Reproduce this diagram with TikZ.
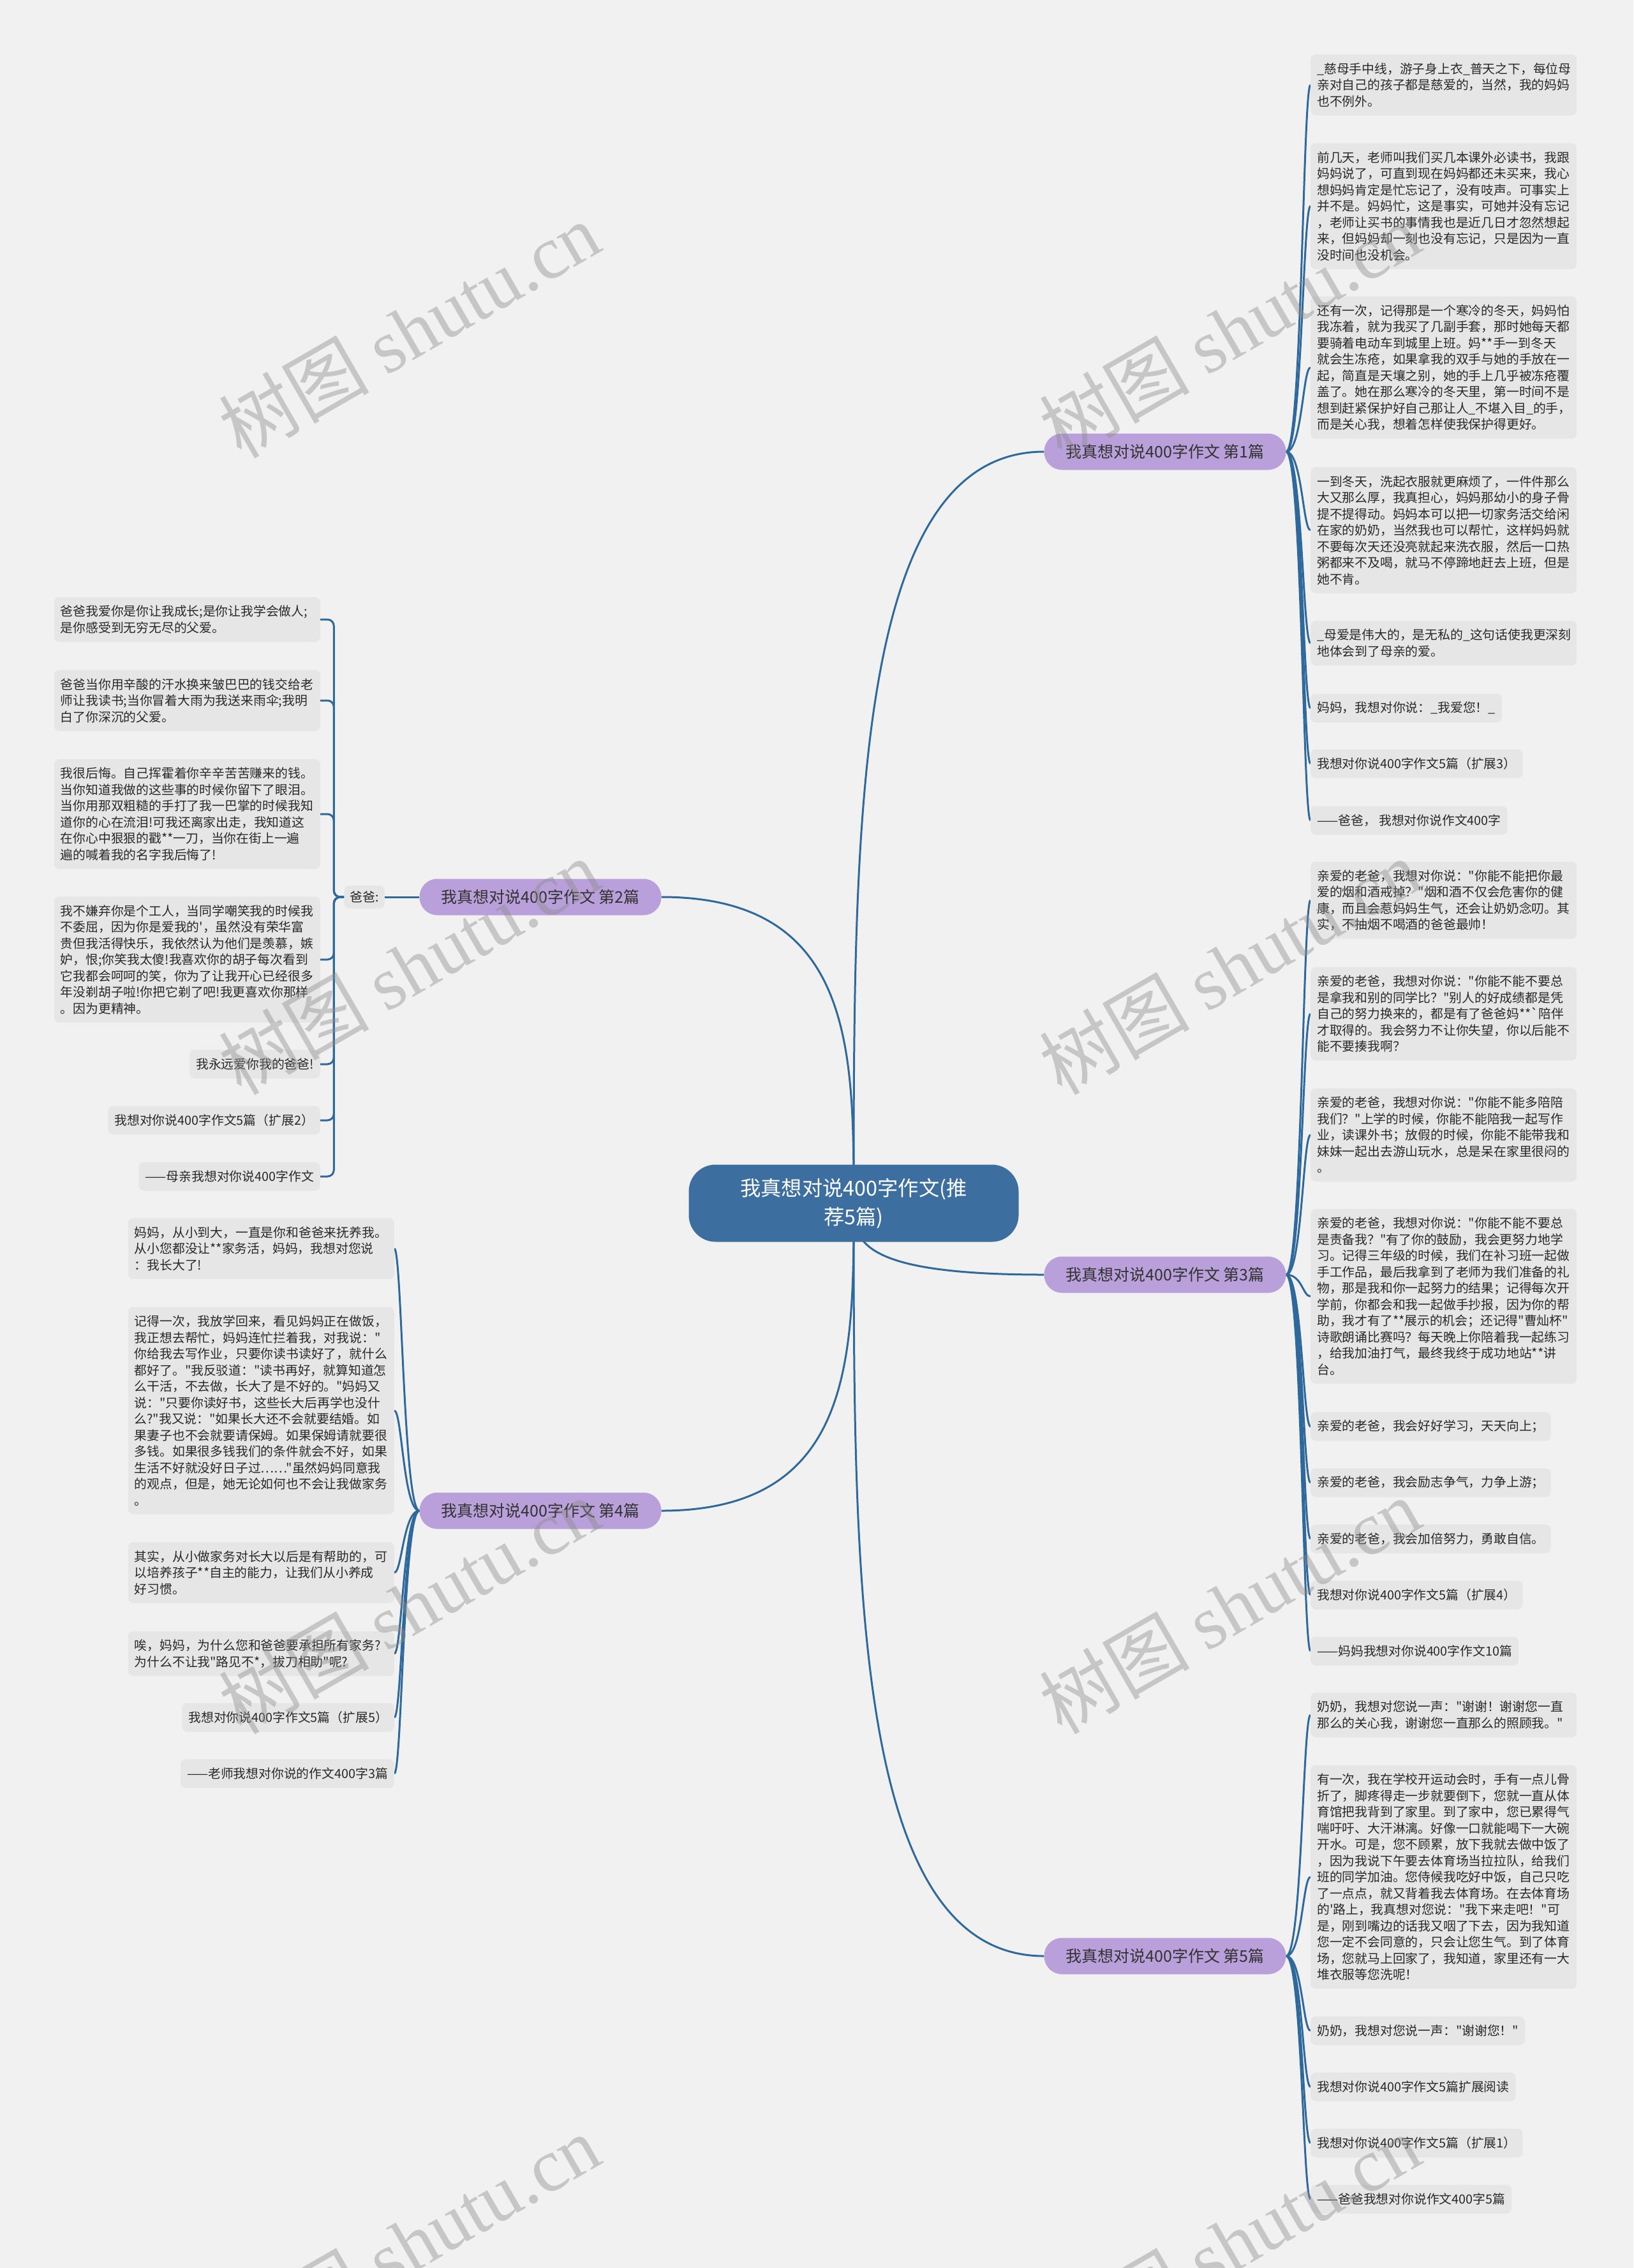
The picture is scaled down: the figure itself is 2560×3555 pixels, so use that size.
\documentclass[tikz,border=0pt]{standalone}
\usepackage{fontspec}
\newfontfamily\cjk{Noto Sans CJK SC}
\newfontfamily\wmserif{Liberation Serif}
\usetikzlibrary{calc}
\definecolor{bgc}{RGB}{241,241,241}
\definecolor{leaffill}{RGB}{230,230,230}
\definecolor{leaftext}{RGB}{40,40,40}
\definecolor{linkc}{RGB}{47,104,155}
\definecolor{rootfill}{RGB}{60,110,160}
\definecolor{branchfill}{RGB}{185,160,218}
\definecolor{branchtext}{RGB}{50,50,50}
\definecolor{wmc}{RGB}{140,140,140}
\pgfdeclarelayer{back}
\pgfsetlayers{back,main}
\tikzset{
  leafbox/.style={fill=leaffill, rounded corners=8pt, font=\cjk\fontsize{19.8}{25.5}\selectfont, text=leaftext, inner xsep=10pt, inner ysep=2pt, align=left},
  lb/.style={leafbox, minimum height={#1*25.5pt+19pt}, text width=397pt},
  ls/.style={leafbox, minimum height=45pt},
  branchbox/.style={fill=branchfill, rounded corners=28pt, minimum width=379pt, minimum height=57pt, font=\cjk\fontsize{25}{30}\selectfont, text=branchtext},
  rootbox/.style={fill=rootfill, rounded corners=42pt, minimum width=517pt, minimum height=121pt, font=\cjk\fontsize{32.3}{45}\selectfont, text=white, align=center},
  link/.style={draw=linkc, line width=3pt},
  wm/.style={text=wmc, text opacity=0.42, rotate=30, font=\cjk\fontsize{118}{130}\selectfont},
}
\begin{document}
\begin{tikzpicture}[x=1pt,y=-1pt]
\useasboundingbox (0,0) rectangle (2560,3555);
\begin{pgfonlayer}{back}
\fill[bgc] (0,0) rectangle (2560,3555);
\end{pgfonlayer}

% root and branches
\node[rootbox] (root) at (1338,1886) {我真想对说400字作文(推\\荐5篇)};
\node[branchbox] (b1) at (1826,708) {我真想对说400字作文 第1篇};
\node[branchbox] (b2) at (847,1406) {我真想对说400字作文 第2篇};
\node[branchbox] (b3) at (1826,1998) {我真想对说400字作文 第3篇};
\node[branchbox] (b4) at (847,2368) {我真想对说400字作文 第4篇};
\node[branchbox] (b5) at (1826,3066) {我真想对说400字作文 第5篇};

% branch 1 leaves
\node[lb=3, anchor=west] (r1a) at (2054,133) {\_慈母手中线，游子身上衣\_普天之下，每位母\\亲对自己的孩子都是慈爱的，当然，我的妈妈\\也不例外。};
\node[lb=7, anchor=west] (r1b) at (2054,323) {前几天，老师叫我们买几本课外必读书，我跟\\妈妈说了，可直到现在妈妈都还未买来，我心\\想妈妈肯定是忙忘记了，没有吱声。可事实上\\并不是。妈妈忙，这是事实，可她并没有忘记\\，老师让买书的事情我也是近几日才忽然想起\\来，但妈妈却一刻也没有忘记，只是因为一直\\没时间也没机会。};
\node[lb=8, anchor=west] (r1c) at (2054,576) {还有一次，记得那是一个寒冷的冬天，妈妈怕\\我冻着，就为我买了几副手套，那时她每天都\\要骑着电动车到城里上班。妈**手一到冬天\\就会生冻疮，如果拿我的双手与她的手放在一\\起，简直是天壤之别，她的手上几乎被冻疮覆\\盖了。她在那么寒冷的冬天里，第一时间不是\\想到赶紧保护好自己那让人\_不堪入目\_的手，\\而是关心我，想着怎样使我保护得更好。};
\node[lb=7, anchor=west] (r1d) at (2054,831) {一到冬天，洗起衣服就更麻烦了，一件件那么\\大又那么厚，我真担心，妈妈那幼小的身子骨\\提不提得动。妈妈本可以把一切家务活交给闲\\在家的奶奶，当然我也可以帮忙，这样妈妈就\\不要每次天还没亮就起来洗衣服，然后一口热\\粥都来不及喝，就马不停蹄地赶去上班，但是\\她不肯。};
\node[lb=2, anchor=west] (r1e) at (2054,1008) {\_母爱是伟大的，是无私的\_这句话使我更深刻\\地体会到了母亲的爱。};
\node[ls, anchor=west] (r1f) at (2054,1110) {妈妈，我想对你说：\_我爱您！\_};
\node[ls, anchor=west] (r1g) at (2054,1197) {我想对你说400字作文5篇（扩展3）};
\node[ls, anchor=west] (r1h) at (2054,1286) {——爸爸， 我想对你说作文400字};

% branch 2
\node[leafbox, minimum height=36pt, inner xsep=9pt] (baba) at (571,1406) {爸爸:};
\node[lb=2, anchor=east] (l2a) at (502,971) {爸爸我爱你是你让我成长;是你让我学会做人;\\是你感受到无穷无尽的父爱。};
\node[lb=3, anchor=east] (l2b) at (502,1098) {爸爸当你用辛酸的汗水换来皱巴巴的钱交给老\\师让我读书;当你冒着大雨为我送来雨伞;我明\\白了你深沉的父爱。};
\node[lb=6, anchor=east] (l2c) at (502,1276) {我很后悔。自己挥霍着你辛辛苦苦赚来的钱。\\当你知道我做的这些事的时候你留下了眼泪。\\当你用那双粗糙的手打了我一巴掌的时候我知\\道你的心在流泪!可我还离家出走，我知道这\\在你心中狠狠的戳**一刀，当你在街上一遍\\遍的喊着我的名字我后悔了!};
\node[lb=7, anchor=east] (l2d) at (502,1504) {我不嫌弃你是个工人，当同学嘲笑我的时候我\\不委屈，因为你是爱我的'，虽然没有荣华富\\贵但我活得快乐，我依然认为他们是羡慕，嫉\\妒，恨;你笑我太傻!我喜欢你的胡子每次看到\\它我都会呵呵的笑，你为了让我开心已经很多\\年没剃胡子啦!你把它剃了吧!我更喜欢你那样\\。因为更精神。};
\node[ls, anchor=east] (l2e) at (502,1668) {我永远爱你我的爸爸!};
\node[ls, anchor=east] (l2f) at (502,1756) {我想对你说400字作文5篇（扩展2）};
\node[ls, anchor=east] (l2g) at (502,1844) {——母亲我想对你说400字作文};

% branch 3
\node[lb=4, anchor=west] (r3a) at (2054,1411) {亲爱的老爸，我想对你说："你能不能把你最\\爱的烟和酒戒掉？"烟和酒不仅会危害你的健\\康，而且会惹妈妈生气，还会让奶奶念叨。其\\实，不抽烟不喝酒的爸爸最帅！};
\node[lb=5, anchor=west] (r3b) at (2054,1589) {亲爱的老爸，我想对你说："你能不能不要总\\是拿我和别的同学比？"别人的好成绩都是凭\\自己的努力换来的，都是有了爸爸妈**`陪伴\\才取得的。我会努力不让你失望，你以后能不\\能不要揍我啊？};
\node[lb=5, anchor=west] (r3c) at (2054,1779) {亲爱的老爸，我想对你说："你能不能多陪陪\\我们？"上学的时候，你能不能陪我一起写作\\业，读课外书；放假的时候，你能不能带我和\\妹妹一起出去游山玩水，总是呆在家里很闷的\\。};
\node[lb=10, anchor=west] (r3d) at (2054,2032) {亲爱的老爸，我想对你说："你能不能不要总\\是责备我？"有了你的鼓励，我会更努力地学\\习。记得三年级的时候，我们在补习班一起做\\手工作品，最后我拿到了老师为我们准备的礼\\物，那是我和你一起努力的结果；记得每次开\\学前，你都会和我一起做手抄报，因为你的帮\\助，我才有了**展示的机会；还记得"曹灿杯"\\诗歌朗诵比赛吗？每天晚上你陪着我一起练习\\，给我加油打气，最终我终于成功地站**讲\\台。};
\node[ls, anchor=west] (r3e) at (2054,2236) {亲爱的老爸，我会好好学习，天天向上；};
\node[ls, anchor=west] (r3f) at (2054,2324) {亲爱的老爸，我会励志争气，力争上游；};
\node[ls, anchor=west] (r3g) at (2054,2412) {亲爱的老爸，我会加倍努力，勇敢自信。};
\node[ls, anchor=west] (r3h) at (2054,2500) {我想对你说400字作文5篇（扩展4）};
\node[ls, anchor=west] (r3i) at (2054,2588) {——妈妈我想对你说400字作文10篇};

% branch 4
\node[lb=3, anchor=east] (l4a) at (618,1957) {妈妈，从小到大，一直是你和爸爸来抚养我。\\从小您都没让**家务活，妈妈，我想对您说\\：我长大了!};
\node[lb=12, anchor=east] (l4b) at (618,2211) {记得一次，我放学回来，看见妈妈正在做饭，\\我正想去帮忙，妈妈连忙拦着我，对我说："\\你给我去写作业，只要你读书读好了，就什么\\都好了。"我反驳道："读书再好，就算知道怎\\么干活，不去做，长大了是不好的。"妈妈又\\说："只要你读好书，这些长大后再学也没什\\么?"我又说："如果长大还不会就要结婚。如\\果妻子也不会就要请保姆。如果保姆请就要很\\多钱。如果很多钱我们的条件就会不好，如果\\生活不好就没好日子过……"虽然妈妈同意我\\的观点，但是，她无论如何也不会让我做家务\\。};
\node[lb=3, anchor=east] (l4c) at (618,2465) {其实，从小做家务对长大以后是有帮助的，可\\以培养孩子**自主的能力，让我们从小养成\\好习惯。};
\node[lb=2, anchor=east] (l4d) at (618,2592) {唉，妈妈，为什么您和爸爸要承担所有家务?\\为什么不让我"路见不*，拔刀相助"呢?};
\node[ls, anchor=east] (l4e) at (618,2692) {我想对你说400字作文5篇（扩展5）};
\node[ls, anchor=east] (l4f) at (618,2780) {——老师我想对你说的作文400字3篇};

% branch 5
\node[lb=2, anchor=west] (r5a) at (2054,2688) {奶奶，我想对您说一声："谢谢！谢谢您一直\\那么的关心我，谢谢您一直那么的照顾我。"};
\node[lb=13, anchor=west] (r5b) at (2054,2942) {有一次，我在学校开运动会时，手有一点儿骨\\折了，脚疼得走一步就要倒下，您就一直从体\\育馆把我背到了家里。到了家中，您已累得气\\喘吁吁、大汗淋漓。好像一口就能喝下一大碗\\开水。可是，您不顾累，放下我就去做中饭了\\，因为我说下午要去体育场当拉拉队，给我们\\班的同学加油。您侍候我吃好中饭，自己只吃\\了一点点，就又背着我去体育场。在去体育场\\的'路上，我真想对您说："我下来走吧！"可\\是，刚到嘴边的话我又咽了下去，因为我知道\\您一定不会同意的，只会让您生气。到了体育\\场，您就马上回家了，我知道，家里还有一大\\堆衣服等您洗呢！};
\node[ls, anchor=west] (r5c) at (2054,3183) {奶奶，我想对您说一声："谢谢您！"};
\node[ls, anchor=west] (r5d) at (2054,3271) {我想对你说400字作文5篇扩展阅读};
\node[ls, anchor=west] (r5e) at (2054,3359) {我想对你说400字作文5篇（扩展1）};
\node[ls, anchor=west] (r5f) at (2054,3447) {——爸爸我想对你说作文400字5篇};

% connectors
\begin{pgfonlayer}{back}
\draw[link] (root.center) .. controls ($(root.center)!0.5!(root.center |- b1.west)$) and (root.center |- b1.west) .. (b1.west);
\draw[link] (root.center) .. controls ($(root.center)!0.5!(root.center |- b5.west)$) and (root.center |- b5.west) .. (b5.west);
\draw[link] (root.center) .. controls ($(root.center)!0.5!(root.center |- b3.west)$) and (root.center |- b3.west) .. (b3.west);
\draw[link] (root.center) .. controls ($(root.center)!0.5!(root.center |- b2.east)$) and (root.center |- b2.east) .. (b2.east);
\draw[link] (root.center) .. controls ($(root.center)!0.5!(root.center |- b4.east)$) and (root.center |- b4.east) .. (b4.east);

\foreach \l in {r1a,r1b,r1c,r1d,r1e,r1f,r1g,r1h}
  \draw[link] (b1.east) .. controls +(25,0) and +(-12,0) .. (\l.west);
\foreach \l in {r3a,r3b,r3c,r3d,r3e,r3f,r3g,r3h,r3i}
  \draw[link] (b3.east) .. controls +(25,0) and +(-12,0) .. (\l.west);
\foreach \l in {r5a,r5b,r5c,r5d,r5e,r5f}
  \draw[link] (b5.east) .. controls +(25,0) and +(-12,0) .. (\l.west);
\foreach \l in {l4a,l4b,l4c,l4d,l4e,l4f}
  \draw[link] (b4.west) .. controls +(-25,0) and +(12,0) .. (\l.east);

\draw[link] (b2.west) -- (baba.east);
\foreach \l in {l2a,l2b,l2c,l2d,l2e,l2f,l2g}
  \draw[link, rounded corners=10pt] (baba.west) -- ++(-16,0) |- (\l.east);
\end{pgfonlayer}

% watermarks
\node[wm] (wm1) at (641,517) {树图 {\wmserif shutu.cn}};
\node[wm] (wm2) at (1927,517) {树图 {\wmserif shutu.cn}};
\node[wm] (wm3) at (641,1515) {树图 {\wmserif shutu.cn}};
\node[wm] (wm4) at (1927,1515) {树图 {\wmserif shutu.cn}};
\node[wm] (wm5) at (641,2517) {树图 {\wmserif shutu.cn}};
\node[wm] (wm6) at (1927,2517) {树图 {\wmserif shutu.cn}};
\node[wm] (wm7) at (641,3515) {树图 {\wmserif shutu.cn}};
\node[wm] (wm8) at (1927,3515) {树图 {\wmserif shutu.cn}};
\end{tikzpicture}
\end{document}
